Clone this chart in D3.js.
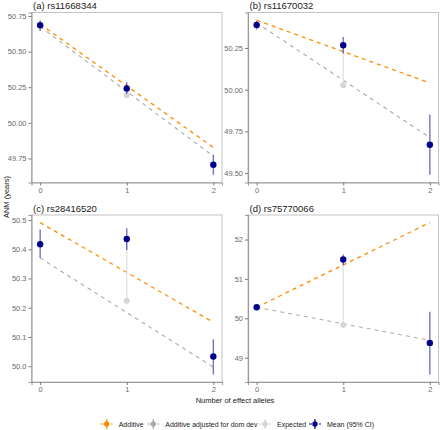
<!DOCTYPE html>
<html>
<head>
<meta charset="utf-8">
<script src="https://cdn.jsdelivr.net/npm/d3@7"></script>
<style>
  html, body { margin: 0; padding: 0; background: #fff; }
  svg text { font-family: "Liberation Sans", Arial, sans-serif; }
</style>
</head>
<body>
<svg id="chart" width="440" height="430"></svg>
<script>
// ---------------- data ----------------
const panelTitles = ["(a) rs11668344", "(b) rs11670032", "(c) rs28416520", "(d) rs75770066"];
const alleles = [0, 1, 2];
const xTickLabels = ["0", "1", "2"];

// Additive line (value at 0 and 2 effect alleles)
const additive = [
  [50.692, 49.827],
  [50.416, 50.040],
  [50.491, 50.150],
  [50.280, 52.430]
];
// Additive adjusted for dominance deviation (value at 0 and 2)
const additiveAdjusted = [
  [50.675, 49.765],
  [50.400, 49.713],
  [50.370, 49.997],
  [50.280, 49.440]
];
// Mean ANM by number of effect alleles
const meanANM = [
  [50.685, 50.241, 49.705],
  [50.388, 50.266, 49.670],
  [50.417, 50.435, 50.033],
  [50.279, 51.494, 49.375]
];
const ciLower = [
  [50.645, 50.203, 49.635],
  [50.360, 50.216, 49.490],
  [50.370, 50.397, 49.972],
  [50.250, 51.346, 48.575]
];
const ciUpper = [
  [50.720, 50.284, 49.777],
  [50.412, 50.316, 49.851],
  [50.467, 50.472, 50.092],
  [50.310, 51.617, 50.165]
];
// Expected value for heterozygotes (1 effect allele)
const expectedHet = [50.193, 50.027, 50.224, 49.827];

// y tick values / labels per panel
const yTicks = [
  [49.75, 50.00, 50.25, 50.50, 50.75],
  [49.50, 49.75, 50.00, 50.25],
  [50.0, 50.1, 50.2, 50.3, 50.4, 50.5],
  [49, 50, 51, 52]
];
const yTickDecimals = [2, 2, 1, 0];

const legendLabels = ["Additive", "Additive adjusted for dom dev", "Expected", "Mean (95% CI)"];
const legendColors = ["#FF8C00", "#A9A9A9", "#D3D3D3", "#00008B"];

// ---------------- layout ----------------
const COL_ORANGE = "#FF8C00", COL_ADJ = "#ABABAB", COL_EXP = "#D6D6D6", COL_MEAN = "#00008B";
const cols = [[31.5, 222], [248, 438.5]];
const rows = [[12.5, 182.5], [215, 382]];

const svg = d3.select("#chart");

panelTitles.forEach((title, i) => {
  const c = cols[i % 2], r = rows[Math.floor(i / 2)];
  const x = d3.scaleLinear().domain([-0.1, 2.1]).range(c);
  const allVals = [].concat(additive[i], additiveAdjusted[i], meanANM[i], ciLower[i], ciUpper[i], [expectedHet[i]]);
  const [lo, hi] = d3.extent(allVals);
  const pad = (hi - lo) * 0.05;
  const y = d3.scaleLinear().domain([lo - pad, hi + pad]).range([r[1], r[0]]);

  const g = svg.append("g");

  // panel border
  g.append("rect").attr("x", c[0]).attr("y", r[0])
    .attr("width", c[1] - c[0]).attr("height", r[1] - r[0])
    .attr("fill", "none").attr("stroke", "#c4c4c4").attr("stroke-width", 1);

  // axes
  const yAxis = d3.axisLeft(y).tickValues(yTicks[i]).tickSize(3).tickPadding(2)
    .tickFormat(d3.format("." + yTickDecimals[i] + "f"));
  const ya = g.append("g").attr("transform", `translate(${c[0]},0)`).call(yAxis);
  const xAxis = d3.axisBottom(x).tickValues(alleles).tickSize(3).tickPadding(2)
    .tickFormat((d, k) => xTickLabels[k]);
  const xa = g.append("g").attr("transform", `translate(0,${r[1]})`).call(xAxis);
  [ya, xa].forEach(a => {
    a.select(".domain").attr("stroke", "#9a9a9a").attr("stroke-width", 1.1);
    a.selectAll(".tick line").attr("stroke", "#7a7a7a");
    a.selectAll(".tick text").attr("fill", "#6b6b6b").style("font-size", "7.5px");
  });

  // title
  g.append("text").attr("x", c[0] + 1.5).attr("y", r[0] - 3.5)
    .style("font-size", "9.5px").attr("fill", "#1a1a1a").text(title);

  const line = d3.line().x(d => x(d[0])).y(d => y(d[1]));

  // additive adjusted (grey dashed)
  g.append("path").datum([[0, additiveAdjusted[i][0]], [2, additiveAdjusted[i][1]]])
    .attr("d", line).attr("fill", "none").attr("stroke", COL_ADJ)
    .attr("stroke-width", 1.1).attr("stroke-dasharray", "4,4");
  // additive (orange dashed)
  g.append("path").datum([[0, additive[i][0]], [2, additive[i][1]]])
    .attr("d", line).attr("fill", "none").attr("stroke", COL_ORANGE)
    .attr("stroke-width", 1.3).attr("stroke-dasharray", "4,4");

  // expected segment + point
  g.append("line").attr("x1", x(1)).attr("x2", x(1))
    .attr("y1", y(meanANM[i][1])).attr("y2", y(expectedHet[i]))
    .attr("stroke", "#E2E2E2").attr("stroke-width", 1.3);
  g.append("circle").attr("cx", x(1)).attr("cy", y(expectedHet[i])).attr("r", 3)
    .attr("fill", COL_EXP);

  // CI lines
  g.selectAll(".ci").data(alleles).enter().append("line")
    .attr("x1", d => x(d)).attr("x2", d => x(d))
    .attr("y1", d => y(ciLower[i][d])).attr("y2", d => y(ciUpper[i][d]))
    .attr("stroke", COL_MEAN).attr("stroke-opacity", 0.55).attr("stroke-width", 1.4);
  // mean points
  g.selectAll(".mp").data(alleles).enter().append("circle")
    .attr("cx", d => x(d)).attr("cy", d => y(meanANM[i][d])).attr("r", 3.2)
    .attr("fill", COL_MEAN);
});

// axis titles
svg.append("text").attr("x", 235).attr("y", 403).attr("text-anchor", "middle")
  .style("font-size", "7.5px").attr("fill", "#1a1a1a").text("Number of effect alleles");
svg.append("text").attr("transform", "translate(9,197) rotate(-90)").attr("text-anchor", "middle")
  .style("font-size", "7.5px").attr("fill", "#1a1a1a").text("ANM (years)");

// legend
const legendKeyX = [106.7, 153.3, 265, 315];
const ly = 424;
legendLabels.forEach((lab, k) => {
  const kx = legendKeyX[k];
  const lg = svg.append("g");
  lg.append("line").attr("x1", kx - 6).attr("x2", kx + 6).attr("y1", ly).attr("y2", ly)
    .attr("stroke", legendColors[k]).attr("stroke-width", 1.2).attr("stroke-dasharray", "3,2");
  lg.append("line").attr("x1", kx).attr("x2", kx).attr("y1", ly - 5).attr("y2", ly + 5)
    .attr("stroke", legendColors[k]).attr("stroke-width", 1.2);
  lg.append("circle").attr("cx", kx).attr("cy", ly).attr("r", 2.7).attr("fill", legendColors[k]);
  lg.append("text").attr("x", kx + 12).attr("y", ly + 2.5)
    .style("font-size", "7px").attr("fill", "#1a1a1a").text(lab);
});
</script>
</body>
</html>
